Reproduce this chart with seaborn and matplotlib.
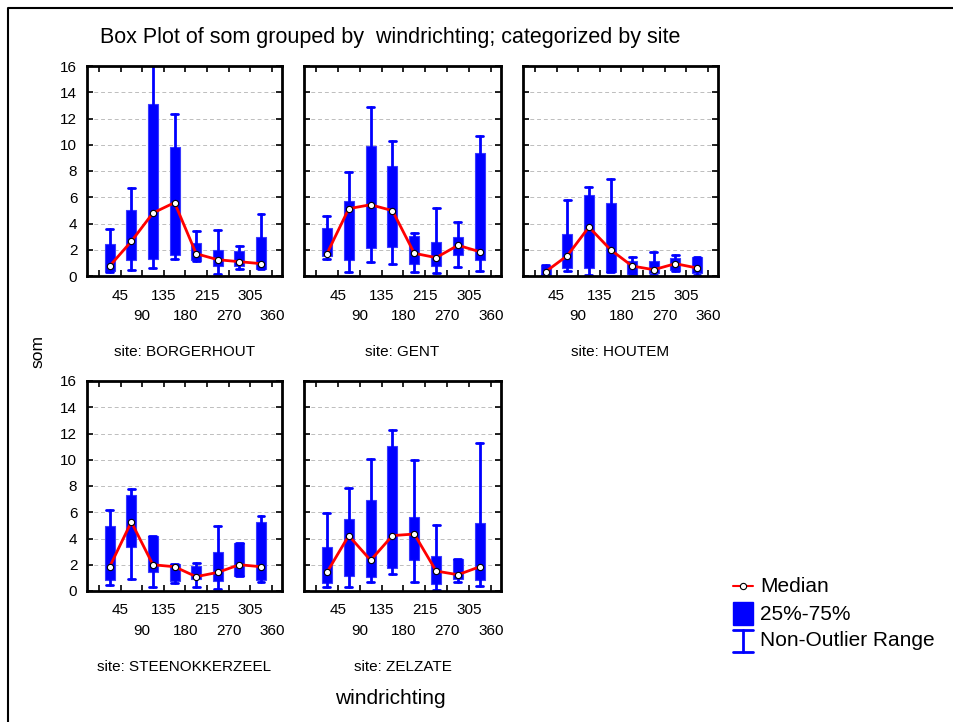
import numpy as np
import pandas as pd
import matplotlib
matplotlib.use("Agg")
import matplotlib.pyplot as plt
import seaborn as sns
from matplotlib.lines import Line2D
from matplotlib.patches import Rectangle
from matplotlib.ticker import FixedLocator, FixedFormatter

# ---- data -------------------------------------------------------------
sites = ["BORGERHOUT", "GENT", "HOUTEM", "STEENOKKERZEEL", "ZELZATE"]
directions = [45, 90, 135, 180, 215, 270, 305, 360]

medians = [
    [0.76, 2.64, 4.80, 5.59, 1.70, 1.24, 1.09, 0.94],
    [1.70, 5.13, 5.43, 4.98, 1.73, 1.40, 2.34, 1.85],
    [0.33, 1.55, 3.73, 2.00, 0.76, 0.48, 0.94, 0.61],
    [1.85, 5.26, 2.00, 1.85, 1.09, 1.42, 2.00, 1.85],
    [1.42, 4.22, 2.34, 4.22, 4.34, 1.52, 1.24, 1.85],
]
q25 = [
    [0.38, 1.24, 1.32, 1.57, 1.24, 0.74, 0.74, 0.53],
    [1.52, 1.24, 2.13, 2.21, 0.94, 0.76, 1.60, 1.19],
    [0.10, 0.58, 0.63, 0.30, 0.18, 0.20, 0.43, 0.25],
    [0.84, 3.38, 1.47, 0.79, 0.89, 0.76, 1.17, 0.84],
    [0.58, 1.17, 1.07, 1.73, 2.36, 0.53, 0.89, 0.84],
]
q75 = [
    [2.46, 5.00, 13.13, 9.83, 2.54, 1.96, 1.90, 2.97],
    [3.68, 5.71, 9.88, 8.38, 3.02, 2.59, 2.97, 9.40],
    [0.74, 3.23, 6.20, 5.59, 1.12, 1.17, 1.40, 1.45],
    [4.95, 7.31, 4.22, 2.03, 1.90, 2.95, 3.63, 5.23],
    [3.38, 5.51, 6.93, 11.05, 5.66, 2.64, 2.44, 5.21],
]
non_outlier_min = [
    [0.30, 0.43, 0.63, 1.32, 1.12, 0.13, 0.56, 0.50],
    [1.27, 0.28, 1.04, 0.91, 0.30, 0.23, 0.69, 0.38],
    [0.05, 0.36, 0.08, 0.28, 0.10, 0.08, 0.41, 0.10],
    [0.46, 0.94, 0.33, 0.63, 0.33, 0.18, 1.17, 0.66],
    [0.30, 0.33, 0.71, 1.32, 0.71, 0.08, 0.66, 0.38],
]
non_outlier_max = [
    [3.60, 6.70, 16.60, 12.37, 3.40, 3.48, 2.26, 4.70],
    [4.57, 7.90, 12.85, 10.29, 3.28, 5.16, 4.09, 10.64],
    [0.86, 5.77, 6.78, 7.39, 1.42, 1.80, 1.63, 1.45],
    [6.17, 7.80, 4.22, 2.03, 2.16, 4.95, 3.63, 5.74],
    [5.97, 7.82, 10.06, 12.27, 10.00, 5.03, 2.44, 11.25],
]
y_ticks = [0, 2, 4, 6, 8, 10, 12, 14, 16]

# ---- style ------------------------------------------------------------
sns.set_style("white")
plt.rcParams["font.family"] = ["Liberation Sans", "DejaVu Sans"]
plt.rcParams["text.color"] = "black"

BLUE = "#0000ff"
W, H = 954, 722
fig = plt.figure(figsize=(W / 100, H / 100), dpi=100)


def px_axes(left, top, right, bottom):
    return fig.add_axes([left / W, 1 - bottom / H, (right - left) / W, (bottom - top) / H])


# panel frames in pixel coordinates (left, top, right, bottom)
cols = [(87, 282), (304, 501), (523, 718)]
rows = [(66, 276), (381, 591)]

positions = np.arange(len(directions))

for i, site in enumerate(sites):
    r, c = divmod(i, 3)
    (left, right), (top, bottom) = cols[c], rows[r]
    ax = px_axes(left, top, right, bottom)

    stats = [
        dict(med=medians[i][k], q1=q25[i][k], q3=q75[i][k],
             whislo=non_outlier_min[i][k], whishi=non_outlier_max[i][k], fliers=[])
        for k in range(len(directions))
    ]
    ax.bxp(stats, positions=positions, widths=0.46, capwidths=0.32,
           patch_artist=True, showfliers=False, manage_ticks=False,
           boxprops=dict(facecolor=BLUE, edgecolor="#3a3aff", linewidth=0.8),
           whiskerprops=dict(color=BLUE, linewidth=2),
           capprops=dict(color=BLUE, linewidth=2),
           medianprops=dict(linewidth=0))

    df = pd.DataFrame({"pos": positions, "median": medians[i]})
    sns.lineplot(data=df, x="pos", y="median", ax=ax, color="red", linewidth=2,
                 marker="o", markersize=4.5, markerfacecolor="white",
                 markeredgecolor="black", markeredgewidth=0.8, legend=False, zorder=5)

    ax.set_xlim(-1.05, 7.97)
    ax.set_ylim(0, 16)
    ax.set_xlabel("")
    ax.set_ylabel("")

    # bin boundaries: labels alternate between two rows
    ax.xaxis.set_major_locator(FixedLocator([0.5, 2.5, 4.5, 6.5]))
    ax.xaxis.set_major_formatter(FixedFormatter([str(d) for d in directions[0::2]]))
    ax.xaxis.set_minor_locator(FixedLocator([-0.5, 1.5, 3.5, 5.5, 7.5]))
    ax.xaxis.set_minor_formatter(FixedFormatter([""] + [str(d) for d in directions[1::2]]))
    ax.tick_params(axis="x", which="both", direction="in", top=True, bottom=True,
                   length=4, width=1.2, labelsize=11, colors="black")
    ax.tick_params(axis="x", which="major", pad=9)
    ax.tick_params(axis="x", which="minor", pad=23.5)

    ax.set_yticks(y_ticks)
    ax.tick_params(axis="y", direction="in", left=True, right=True, length=4,
                   width=1.2, labelsize=11, colors="black", pad=7,
                   labelleft=(c == 0))

    ax.yaxis.grid(True, linestyle=(0, (4, 3)), color="#bdbdbd", linewidth=0.7)
    ax.xaxis.grid(False)
    ax.set_axisbelow(True)
    for s in ax.spines.values():
        s.set_visible(True)
        s.set_linewidth(2)
        s.set_color("black")

    fig.text((left + right) / 2 / W, 1 - (bottom + 76) / H, f"site: {site}",
             ha="center", va="center", fontsize=11)

# ---- titles -------------------------------------------------------------
fig.text(390 / W, 1 - 37 / H, "Box Plot of som grouped by  windrichting; categorized by site",
         ha="center", va="center", fontsize=15.5)
fig.text(38 / W, 1 - 352 / H, "som", rotation=90, ha="center", va="center", fontsize=12.5)
fig.text(390 / W, 1 - 698 / H, "windrichting", ha="center", va="center", fontsize=15)

# ---- legend and outer frame on a pixel-space overlay ---------------------
ov = fig.add_axes([0, 0, 1, 1], facecolor="none")
ov.set_xlim(0, W)
ov.set_ylim(H, 0)
ov.axis("off")

ov.add_line(Line2D([8, 8, W + 5], [H + 5, 8, 8], color="black", linewidth=1.5))

ov.add_line(Line2D([733, 753], [586, 586], color="red", linewidth=1.5))
ov.add_line(Line2D([743], [586], marker="o", markersize=4.5, markerfacecolor="white",
                   markeredgecolor="black", markeredgewidth=0.8))
ov.add_patch(Rectangle((733, 602), 20, 23, facecolor=BLUE, edgecolor=BLUE))
ov.add_line(Line2D([743, 743], [630, 652], color=BLUE, linewidth=2))
ov.add_line(Line2D([733, 753], [630, 630], color=BLUE, linewidth=2))
ov.add_line(Line2D([733, 753], [652, 652], color=BLUE, linewidth=2))

for label, y in [("Median", 587), ("25%-75%", 614), ("Non-Outlier Range", 641)]:
    ov.text(760, y, label, ha="left", va="center", fontsize=15)

fig.savefig("out.png", dpi=100)
